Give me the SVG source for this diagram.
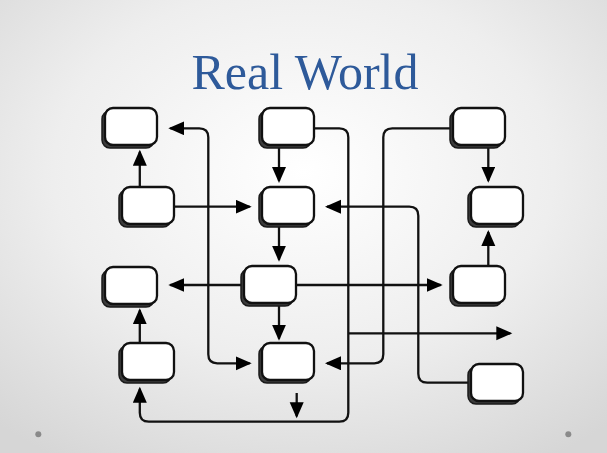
<svg xmlns="http://www.w3.org/2000/svg" width="607" height="453" viewBox="0 0 607 453">
  <defs>
    <radialGradient id="bg" cx="50%" cy="38%" r="75%">
      <stop offset="0" stop-color="#ffffff"/>
      <stop offset="0.55" stop-color="#eeeeee"/>
      <stop offset="1" stop-color="#d6d6d6"/>
    </radialGradient>
    <marker id="ah" markerUnits="userSpaceOnUse" markerWidth="18" markerHeight="16" refX="14" refY="7" orient="auto-start-reverse">
      <path d="M0,0 L16,7 L0,14 Z" fill="#000"/>
    </marker>
    <style>
      .sh { fill: #3c3c3c; stroke: #1a1a1a; stroke-width: 1.5; }
      .bx { fill: #ffffff; stroke: #111111; stroke-width: 2.3; }
      .ln { fill: none; stroke: #111111; stroke-width: 2.3; }
      .ar { marker-end: url(#ah); }
      .dot { fill: #8a8a8a; }
      .title { font-family: "Liberation Serif", "Times New Roman", serif; font-size: 50px; fill: #2E5A9A; }
    </style>
  </defs>
  <rect x="0" y="0" width="607" height="453" fill="url(#bg)"/>
  <text class="title" x="305" y="89" text-anchor="middle">Real World</text>
  <circle class="dot" cx="38.3" cy="434.3" r="3"/>
  <circle class="dot" cx="568.3" cy="434.3" r="3"/>

  <g id="connectors">
    <path class="ln ar" d="M139.8,187 V151.7"/>
    <path class="ln ar" d="M174,206.7 H249.7"/>
    <path class="ln ar" d="M279,146 V181"/>
    <path class="ln ar" d="M279,225 V259.7"/>
    <path class="ln ar" d="M488.3,146 V180.7"/>
    <path class="ln ar" d="M488.3,266 V232"/>
    <path class="ln ar" d="M244,285 H170.3"/>
    <path class="ln ar" d="M296,285 H440.7"/>
    <path class="ln ar" d="M279,303 V338.7"/>
    <path class="ln ar" d="M139.8,343 V310.3"/>
    <path class="ln" marker-start="url(#ah)" marker-end="url(#ah)" d="M170.3,128.3 H199.3 Q208.3,128.3 208.3,137.3 V354.3 Q208.3,363.3 217.3,363.3 H249.7"/>
    <path class="ln ar" d="M314,128.3 H339.3 Q348.3,128.3 348.3,137.3 V412.7 Q348.3,421.7 339.3,421.7 H148.8 Q139.8,421.7 139.8,412.7 V388.7"/>
    <path class="ln ar" d="M471,382.7 H427.3 Q418.3,382.7 418.3,373.7 V215.7 Q418.3,206.7 409.3,206.7 H327"/>
    <path class="ln ar" d="M453,128.3 H392.3 Q383.3,128.3 383.3,137.3 V354.3 Q383.3,363.3 374.3,363.3 H327"/>
    <path class="ln ar" d="M348.3,333.3 H510.3"/>
    <path class="ln ar" d="M296.7,393 V416.3"/>
  </g>

  <g id="node-a"><rect class="sh" x="102" y="111" width="52" height="37" rx="8"/><rect class="bx" x="105" y="108" width="52" height="37" rx="8"/></g>
  <g id="node-b"><rect class="sh" x="119" y="190" width="52" height="37" rx="8"/><rect class="bx" x="122" y="187" width="52" height="37" rx="8"/></g>
  <g id="node-c"><rect class="sh" x="259" y="111" width="52" height="37" rx="8"/><rect class="bx" x="262" y="108" width="52" height="37" rx="8"/></g>
  <g id="node-d"><rect class="sh" x="259" y="190" width="52" height="37" rx="8"/><rect class="bx" x="262" y="187" width="52" height="37" rx="8"/></g>
  <g id="node-f"><rect class="sh" x="450" y="111" width="52" height="37" rx="8"/><rect class="bx" x="453" y="108" width="52" height="37" rx="8"/></g>
  <g id="node-g"><rect class="sh" x="468" y="190" width="52" height="37" rx="8"/><rect class="bx" x="471" y="187" width="52" height="37" rx="8"/></g>
  <g id="node-i"><rect class="sh" x="102" y="270" width="52" height="37" rx="8"/><rect class="bx" x="105" y="267" width="52" height="37" rx="8"/></g>
  <g id="node-j"><rect class="sh" x="241" y="269" width="52" height="37" rx="8"/><rect class="bx" x="244" y="266" width="52" height="37" rx="8"/></g>
  <g id="node-h"><rect class="sh" x="450" y="269" width="52" height="37" rx="8"/><rect class="bx" x="453" y="266" width="52" height="37" rx="8"/></g>
  <g id="node-l"><rect class="sh" x="119" y="346" width="52" height="37" rx="8"/><rect class="bx" x="122" y="343" width="52" height="37" rx="8"/></g>
  <g id="node-k"><rect class="sh" x="259" y="346" width="52" height="37" rx="8"/><rect class="bx" x="262" y="343" width="52" height="37" rx="8"/></g>
  <g id="node-m"><rect class="sh" x="468" y="367" width="52" height="37" rx="8"/><rect class="bx" x="471" y="364" width="52" height="37" rx="8"/></g>
</svg>
